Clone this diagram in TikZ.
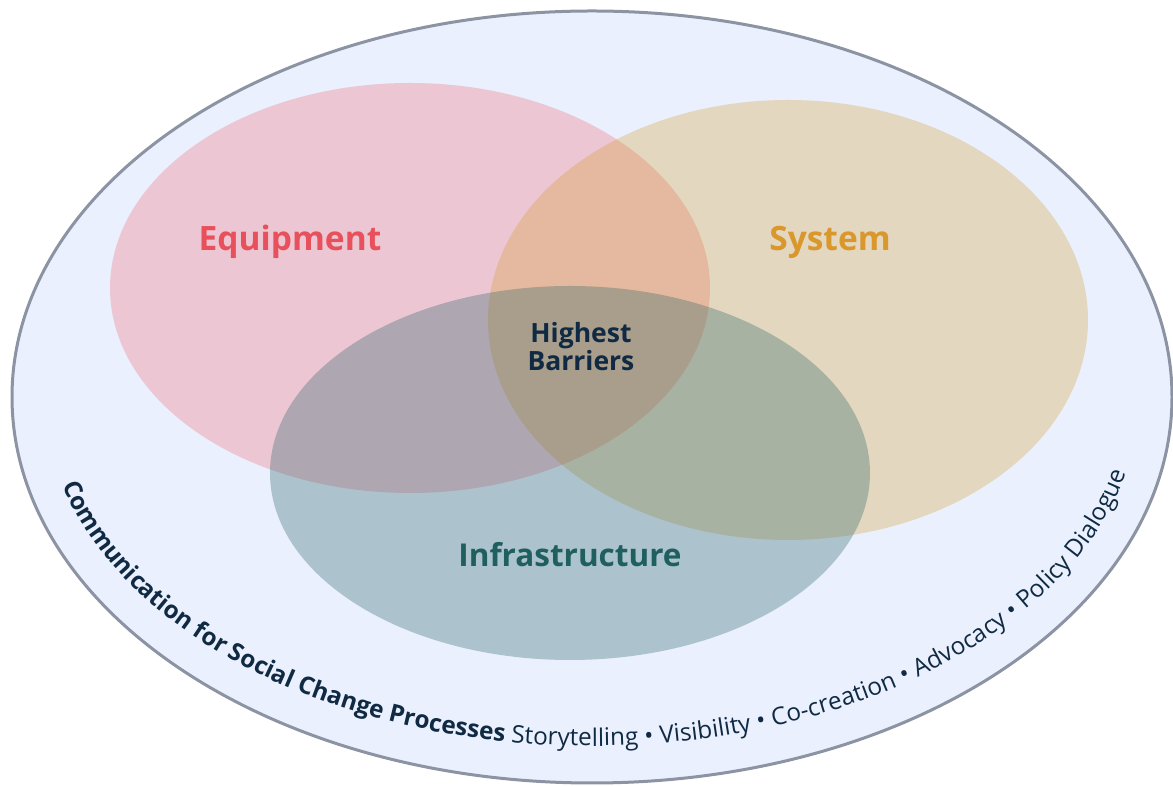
\documentclass[tikz,border=0pt]{standalone}
\usepackage{fontspec}
\setmainfont{Open Sans}
\usetikzlibrary{decorations.text}
\definecolor{outerfill}{HTML}{EAF0FD}
\definecolor{outerline}{HTML}{8C93A3}
\definecolor{equipc}{RGB}{242,80,89}
\definecolor{systemc}{RGB}{210,144,9}
\definecolor{infrac}{RGB}{31,93,96}
\definecolor{equiptext}{HTML}{E8505B}
\definecolor{systemtext}{HTML}{D9972C}
\definecolor{infratext}{HTML}{1F5F5F}
\definecolor{navy}{HTML}{0F2A42}
\tikzset{
  venn/.style={draw=none, fill=#1},
  title/.style={font=\fontsize{33.5}{40}\selectfont\bfseries, anchor=center},
}
\begin{document}
\begin{tikzpicture}[x=1pt,y=1pt]
\useasboundingbox (0,0) rectangle (1173,786);
% outer ellipse
\path[draw=outerline, line width=3pt, fill=outerfill] (592,389) ellipse [x radius=580, y radius=386];
% venn ellipses
\path[venn=equipc, fill opacity=0.25] (410,498) ellipse [x radius=300, y radius=205];
\path[venn=systemc, fill opacity=0.25] (788,466) ellipse [x radius=300, y radius=220];
\path[venn=infrac, fill opacity=0.3] (570,313) ellipse [x radius=300, y radius=187];
% labels
\node[title, text=equiptext] (equip) at (290,544) {Equipment};
\node[title, text=systemtext] (sys) at (830,544) {System};
\node[title, font=\fontsize{31.5}{38}\selectfont\bfseries, text=infratext] (infra) at (570,231) {Infrastructure};
\node[font=\fontsize{26.5}{28}\selectfont\bfseries, text=navy, align=center] (core) at (581,439) {Highest\\Barriers};
% curved text
\path[decorate, decoration={text along path, text align=center,
  text={|\fontsize{24.3}{28}\selectfont\bfseries\color{navy}|Communication for Social Change Processes |\fontsize{24.3}{28}\selectfont\mdseries\color{navy}|Storytelling • Visibility • Co-creation • Advocacy • Policy Dialogue}}]
  (592,389) ++(186:547 and 349) arc[start angle=186, end angle=356, x radius=547, y radius=349];
\end{tikzpicture}
\end{document}
